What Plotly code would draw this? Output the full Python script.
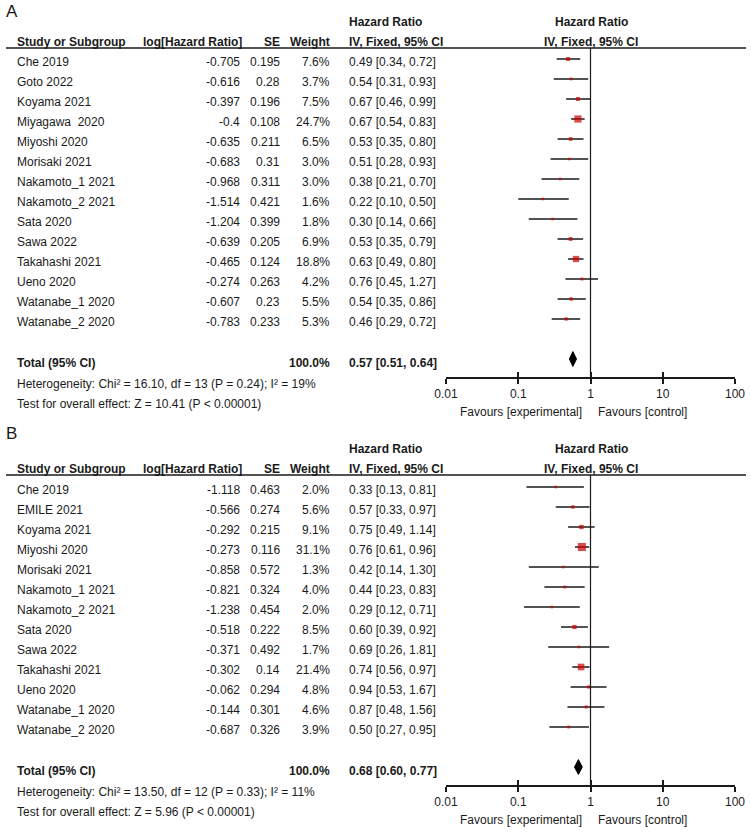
import plotly.graph_objects as go

# ---------------- data ----------------
studies_A = ["Che 2019", "Goto 2022", "Koyama 2021", "Miyagawa\u00a0 2020", "Miyoshi 2020",
             "Morisaki 2021", "Nakamoto_1 2021", "Nakamoto_2 2021", "Sata 2020", "Sawa 2022",
             "Takahashi 2021", "Ueno 2020", "Watanabe_1 2020", "Watanabe_2 2020"]
loghr_A = ["-0.705", "-0.616", "-0.397", "-0.4", "-0.635", "-0.683", "-0.968", "-1.514",
           "-1.204", "-0.639", "-0.465", "-0.274", "-0.607", "-0.783"]
se_A = ["0.195", "0.28", "0.196", "0.108", "0.211", "0.31", "0.311", "0.421", "0.399",
        "0.205", "0.124", "0.263", "0.23", "0.233"]
weight_A = [7.6, 3.7, 7.5, 24.7, 6.5, 3.0, 3.0, 1.6, 1.8, 6.9, 18.8, 4.2, 5.5, 5.3]
hr_A = [0.49, 0.54, 0.67, 0.67, 0.53, 0.51, 0.38, 0.22, 0.30, 0.53, 0.63, 0.76, 0.54, 0.46]
lo_A = [0.34, 0.31, 0.46, 0.54, 0.35, 0.28, 0.21, 0.10, 0.14, 0.35, 0.49, 0.45, 0.35, 0.29]
hi_A = [0.72, 0.93, 0.99, 0.83, 0.80, 0.93, 0.70, 0.50, 0.66, 0.79, 0.80, 1.27, 0.86, 0.72]
total_A = (0.57, 0.51, 0.64)
total_w_A = "100.0%"
het_A = "Heterogeneity: Chi² = 16.10, df = 13 (P = 0.24); I² = 19%"
test_A = "Test for overall effect: Z = 10.41 (P &lt; 0.00001)"

studies_B = ["Che 2019", "EMILE 2021", "Koyama 2021", "Miyoshi 2020", "Morisaki 2021",
             "Nakamoto_1 2021", "Nakamoto_2 2021", "Sata 2020", "Sawa 2022", "Takahashi 2021",
             "Ueno 2020", "Watanabe_1 2020", "Watanabe_2 2020"]
loghr_B = ["-1.118", "-0.566", "-0.292", "-0.273", "-0.858", "-0.821", "-1.238", "-0.518",
           "-0.371", "-0.302", "-0.062", "-0.144", "-0.687"]
se_B = ["0.463", "0.274", "0.215", "0.116", "0.572", "0.324", "0.454", "0.222", "0.492",
        "0.14", "0.294", "0.301", "0.326"]
weight_B = [2.0, 5.6, 9.1, 31.1, 1.3, 4.0, 2.0, 8.5, 1.7, 21.4, 4.8, 4.6, 3.9]
hr_B = [0.33, 0.57, 0.75, 0.76, 0.42, 0.44, 0.29, 0.60, 0.69, 0.74, 0.94, 0.87, 0.50]
lo_B = [0.13, 0.33, 0.49, 0.61, 0.14, 0.23, 0.12, 0.39, 0.26, 0.56, 0.53, 0.48, 0.27]
hi_B = [0.81, 0.97, 1.14, 0.96, 1.30, 0.83, 0.71, 0.92, 1.81, 0.97, 1.67, 1.56, 0.95]
total_B = (0.68, 0.60, 0.77)
total_w_B = "100.0%"
het_B = "Heterogeneity: Chi² = 13.50, df = 12 (P = 0.33); I² = 11%"
test_B = "Test for overall effect: Z = 5.96 (P &lt; 0.00001)"

tick_vals = [0.01, 0.1, 1, 10, 100]
tick_text = ["0.01", "0.1", "1", "10", "100"]

# ---------------- styling / layout constants ----------------
W, H = 751, 833
FONT = "Liberation Sans, Arial, sans-serif"
FS = 12
TXT = "#1a1a1a"
RED = "#cc0000"
ROW_PX = 20


def py(p):
    return 1 - p / H


def px(p):
    return p / W


fig = go.Figure()
ann = []
shapes = []

panels = [
    dict(letter="A", letter_y=11.5, top=48, first=59, studies=studies_A, loghr=loghr_A, se=se_A,
         w=weight_A, hr=hr_A, lo=lo_A, hi=hi_A, total=total_A, tw=total_w_A, het=het_A,
         test=test_A),
    dict(letter="B", letter_y=433.5, top=475, first=487, studies=studies_B, loghr=loghr_B,
         se=se_B, w=weight_B, hr=hr_B, lo=lo_B, hi=hi_B, total=total_B, tw=total_w_B,
         het=het_B, test=test_B),
]

TEXT_SHIFT = -3  # table text sits slightly below marker centre


def A(text, x, y, xanchor="left", bold=False, yref="paper", size=FS, yshift=0):
    ann.append(dict(text=f"<b>{text}</b>" if bold else text, x=x, y=y, xref="paper",
                    yref=yref, xanchor=xanchor, yanchor="middle", showarrow=False,
                    font=dict(family=FONT, size=size, color=TXT), yshift=yshift,
                    borderpad=0))


for k, P in enumerate(panels):
    n = len(P["studies"])
    xa = "x" if k == 0 else "x2"
    ya = "y" if k == 0 else "y2"
    xa_in = "x3" if k == 0 else "x4"
    top = P["top"]
    first = P["first"]
    total_row = n + 1
    total_px = first + ROW_PX * total_row
    axis_px = total_px + 18
    r_top = -(first - top) / ROW_PX
    r_bot = (axis_px - first) / ROW_PX
    yname = "yaxis" if k == 0 else "yaxis2"
    fig.layout[yname] = dict(domain=[py(axis_px), py(top)], range=[r_bot, r_top],
                             visible=False, fixedrange=True)
    xname = "xaxis" if k == 0 else "xaxis2"
    xdom = [px(446), px(735)]
    fig.layout[xname] = dict(type="log", range=[-2, 2], domain=xdom, anchor=ya,
                             showline=True, linecolor=TXT, linewidth=1.5,
                             ticks="outside", ticklen=5, tickwidth=1.5, tickcolor=TXT,
                             tickvals=tick_vals, ticktext=tick_text, showgrid=False,
                             zeroline=False, tickfont=dict(family=FONT, size=FS, color=TXT),
                             automargin=False, fixedrange=True)
    xin = "xaxis3" if k == 0 else "xaxis4"
    fig.layout[xin] = dict(type="log", range=[-2, 2], domain=xdom, anchor=ya, overlaying=xa,
                           showline=False, ticks="inside", ticklen=5, tickwidth=1.5,
                           tickcolor=TXT, tickvals=tick_vals, showticklabels=False,
                           showgrid=False, zeroline=False, automargin=False, fixedrange=True)
    fig.add_trace(go.Scatter(x=[1], y=[0], xaxis=xa_in, yaxis=ya, mode="markers",
                             marker=dict(opacity=0), showlegend=False, hoverinfo="skip"))

    # line of no effect
    shapes.append(dict(type="line", xref=xa, yref=f"{ya} domain", x0=1, x1=1, y0=0, y1=1,
                       line=dict(color=TXT, width=1.2)))

    rows = list(range(n))
    cx, cy = [], []
    for i in rows:
        cx += [P["lo"][i], P["hi"][i], None]
        cy += [i, i, None]
    fig.add_trace(go.Scatter(x=cx, y=cy, xaxis=xa, yaxis=ya, mode="lines",
                             line=dict(color=TXT, width=1.5), showlegend=False,
                             hoverinfo="skip"))
    sizes = [max(2.6, 1.45 * w ** 0.5) for w in P["w"]]
    fig.add_trace(go.Scatter(x=P["hr"], y=rows, xaxis=xa, yaxis=ya, mode="markers",
                             marker=dict(symbol="square", size=sizes, color=RED,
                                         line=dict(width=0)),
                             showlegend=False))
    est, tlo, thi = P["total"]
    hd = 0.37
    fig.add_trace(go.Scatter(x=[tlo, est, thi, est, tlo],
                             y=[total_row, total_row - hd, total_row, total_row + hd, total_row],
                             xaxis=xa, yaxis=ya, mode="lines", fill="toself",
                             fillcolor="#000000", line=dict(color="#000000", width=1),
                             showlegend=False, hoverinfo="skip"))

    A(P["letter"], px(5), py(P["letter_y"]), size=17)
    hdr1 = top - 26
    hdr2 = top - 6
    A("Hazard Ratio", px(348), py(hdr1), bold=True)
    A("Hazard Ratio", px(591), py(hdr1), xanchor="center", bold=True)
    A("Study or Subgroup", px(16), py(hdr2), bold=True)
    A("log[Hazard Ratio]", px(243), py(hdr2), xanchor="right", bold=True)
    A("SE", px(281), py(hdr2), xanchor="right", bold=True)
    A("Weight", px(331), py(hdr2), xanchor="right", bold=True)
    A("IV, Fixed, 95% CI", px(348), py(hdr2), bold=True)
    A("IV, Fixed, 95% CI", px(591), py(hdr2), xanchor="center", bold=True)
    shapes.append(dict(type="line", xref="paper", yref="paper", x0=px(6), x1=px(746),
                       y0=py(top), y1=py(top), line=dict(color=TXT, width=1.5)))

    for i in rows:
        A(P["studies"][i], px(16), i, yref=ya, yshift=TEXT_SHIFT)
        A(P["loghr"][i], px(241), i, xanchor="right", yref=ya, yshift=TEXT_SHIFT)
        A(P["se"][i], px(281), i, xanchor="right", yref=ya, yshift=TEXT_SHIFT)
        A(f"{P['w'][i]:.1f}%", px(331), i, xanchor="right", yref=ya, yshift=TEXT_SHIFT)
        A(f"{P['hr'][i]:.2f} [{P['lo'][i]:.2f}, {P['hi'][i]:.2f}]", px(348), i, yref=ya,
          yshift=TEXT_SHIFT)
    tp = total_px + 4
    A("Total (95% CI)", px(16), py(tp), bold=True)
    A(P["tw"], px(331), py(tp), xanchor="right", bold=True)
    A(f"{est:.2f} [{tlo:.2f}, {thi:.2f}]", px(348), py(tp), bold=True)
    A(P["het"], px(16), py(tp + 20.5))
    A(P["test"], px(16), py(tp + 40.5))
    fav_y = tp + 48.5
    A("Favours [experimental]", px(583), py(fav_y), xanchor="right")
    A("Favours [control]", px(597), py(fav_y))

fig.update_layout(width=W, height=H,
                  margin=dict(l=0, r=0, t=0, b=0, pad=0, autoexpand=False),
                  paper_bgcolor="white", plot_bgcolor="rgba(0,0,0,0)",
                  annotations=ann, shapes=shapes, showlegend=False,
                  font=dict(family=FONT, size=FS, color=TXT))
fig.write_html("out.html", config={"displayModeBar": False},
               post_script="document.body.style.margin='0';document.body.style.padding='0';")
